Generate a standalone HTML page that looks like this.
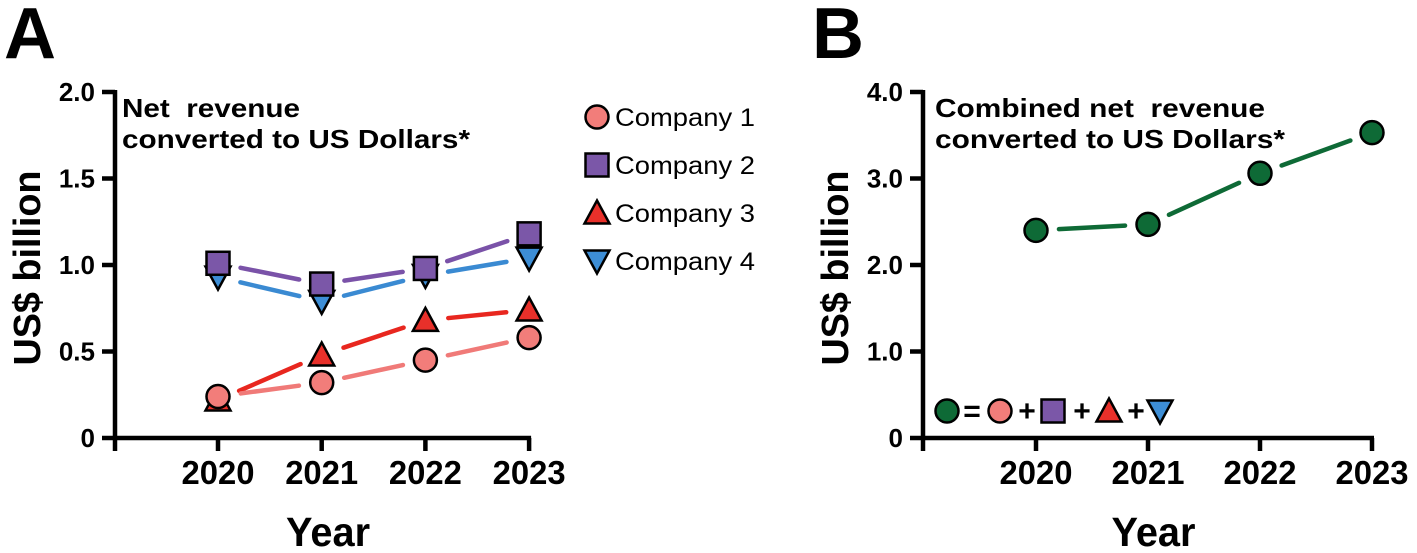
<!DOCTYPE html>
<html><head><meta charset="utf-8"><style>
body{margin:0;background:#fff}
svg{display:block;font-family:"Liberation Sans",Arial,sans-serif;font-weight:bold}
text{white-space:pre}
</style></head><body>
<svg id="chart" width="1417" height="553" viewBox="0 0 1417 553"></svg>
<script>
const years=["2020","2021","2022","2023"];
const c1=[0.24,0.32,0.45,0.58];
const c2=[1.01,0.89,0.98,1.18];
const c3=[0.22,0.48,0.68,0.74];
const c4=[0.93,0.79,0.94,1.04];
const combined=[2.40,2.47,3.06,3.53];
const ticksA=["0","0.5","1.0","1.5","2.0"];
const ticksAVal=[0,0.5,1.0,1.5,2.0];
const ticksB=["0","1.0","2.0","3.0","4.0"];
const ticksBVal=[0,1,2,3,4];

const NS="http://www.w3.org/2000/svg";
const svg=document.getElementById('chart');
function mk(tag,attrs,parent,text){const e=document.createElementNS(NS,tag);for(const k in attrs)e.setAttribute(k,attrs[k]);if(text!==undefined)e.textContent=text;(parent||svg).appendChild(e);return e;}

const COL={c1:"#f27d7a",c2:"#7b57a8",c3:"#e8302a",c4:"#3d8ed6",g:"#0e6a36"};
const LCOL={c1:"#f07a78",c2:"#7a52a8",c3:"#e8271f",c4:"#3a8ad2",g:"#0e6a36"};

function marker(type,cx,cy,fill,g,r){
  r=r||11.5;
  if(type==='circle')return mk('circle',{cx,cy,r,fill,stroke:'#000','stroke-width':2.5},g);
  if(type==='square')return mk('rect',{x:cx-r,y:cy-r,width:2*r,height:2*r,fill,stroke:'#000','stroke-width':2.5},g);
  if(type==='up')return mk('polygon',{points:`${cx},${cy-r-1} ${cx+r+1},${cy+r-1} ${cx-r-1},${cy+r-1}`,fill,stroke:'#000','stroke-width':2.5},g);
  if(type==='down')return mk('polygon',{points:`${cx-r-1},${cy-r+1} ${cx+r+1},${cy-r+1} ${cx},${cy+r+1}`,fill,stroke:'#000','stroke-width':2.5},g);
}

function panel(o){
  const {x0,y0,ppu,xs,ticks,tickVals,label}=o;
  const g=mk('g',{},svg);
  
  
  const yS=v=>y0-v*ppu;
  const xS=i=>xs[0]+i*(xs[1]);
  mk('text',{x:label.x,y:label.y,'font-size':72},g,label.t);
  const ax=mk('g',{stroke:'#000','stroke-width':4.5,fill:'none'},g);
  
  
  mk('line',{x1:x0,y1:yS(tickVals[tickVals.length-1])-2,x2:x0,y2:y0+2},ax);
  mk('line',{x1:x0-2,y1:y0,x2:xS(years.length-1)+2,y2:y0},ax);
  tickVals.forEach((v,i)=>{
    mk('line',{x1:x0-13,y1:yS(v),x2:x0,y2:yS(v)},ax);
    const t=mk('text',{x:x0-20,y:yS(v)+9,'font-size':26,'text-anchor':'end'},g,ticks[i]);
    
    
  });
  mk('line',{x1:x0,y1:y0,x2:x0,y2:y0+13},ax);
  years.forEach((y,i)=>{
    mk('line',{x1:xS(i),y1:y0,x2:xS(i),y2:y0+13},ax);
    const t=mk('text',{x:xS(i),y:y0+46,'font-size':33,'text-anchor':'middle',textLength:73,lengthAdjust:'spacingAndGlyphs'},g,y);
    
    
  });
  const xt=mk('text',{x:(x0+xS(3))/2+6,y:y0+108,'font-size':41,'text-anchor':'middle',textLength:84,lengthAdjust:'spacingAndGlyphs'},g,'Year');
  
  
  const yt=mk('text',{x:0,y:0,'font-size':38,'text-anchor':'middle',textLength:195,lengthAdjust:'spacingAndGlyphs',transform:`translate(${o.ytX},268) rotate(-90)`},g,'US$ billion');
  
  
  const tx=x0+o.titleDx;
  const t1=mk('text',{x:tx,y:117,'font-size':26,textLength:o.titleW[0],lengthAdjust:'spacingAndGlyphs'},g,o.title[0]);
  
  
  const t2=mk('text',{x:tx,y:148,'font-size':26,textLength:o.titleW[1],lengthAdjust:'spacingAndGlyphs'},g,o.title[1]);
  
  
  return {g,xS,yS};
}

function series(p,vals,key,name){
  const g=mk('g',{},p.g);
  
  
  const gap=23;
  for(let i=0;i<vals.length-1;i++){
    const x1=p.xS(i),y1=p.yS(vals[i]),x2=p.xS(i+1),y2=p.yS(vals[i+1]);
    const L=Math.hypot(x2-x1,y2-y1),ux=(x2-x1)/L,uy=(y2-y1)/L;
    const l=mk('line',{x1:x1+ux*gap,y1:y1+uy*gap,x2:x2-ux*gap,y2:y2-uy*gap,stroke:LCOL[key],'stroke-width':4.5,'stroke-linecap':'round'},g);
    
    
  }
  return g;
}
function points(p,g,vals,type,key,name){
  vals.forEach((v,i)=>{
    const m=marker(type,p.xS(i),p.yS(v),COL[key],g);
    
    
  });
}

// Panel A
const A=panel({name:'panel-a',x0:115,y0:438,ppu:173,xs:[218,103.7],ticks:ticksA,tickVals:ticksAVal,label:{x:4,y:58,t:'A'},ytX:40,titleDx:7,titleW:[178,348],title:['Net  revenue','converted to US Dollars*']});
const sA=[[c3,'up','c3','company-3'],[c4,'down','c4','company-4'],[c1,'circle','c1','company-1'],[c2,'square','c2','company-2']];
const gs=sA.map(s=>series(A,s[0],s[2],s[3]));
sA.forEach((s,i)=>points(A,gs[i],s[0],s[1],s[2],s[3]));
const legend=mk('g',{},A.g);


[['circle','c1','Company 1'],['square','c2','Company 2'],['up','c3','Company 3'],['down','c4','Company 4']].forEach((e,i)=>{
  const y=117+i*48;
  const eg=mk('g',{},legend);
  
  
  marker(e[0],597,y,COL[e[1]],eg);
  mk('text',{x:615,y:y+9,'font-size':25,'font-weight':'normal',textLength:140,lengthAdjust:'spacingAndGlyphs'},eg,e[2]);
});

// Panel B
const B=panel({name:'panel-b',x0:923,y0:438,ppu:86.5,xs:[1036,112],ticks:ticksB,tickVals:ticksBVal,label:{x:812,y:58,t:'B'},ytX:848,titleDx:12,titleW:[330,350],title:['Combined net  revenue','converted to US Dollars*']});
const gB=series(B,combined,'g','combined');
points(B,gB,combined,'circle','g','combined');
const eq=mk('g',{},B.g);


const ey=411;
marker('circle',947,ey,COL.g,eq);
mk('text',{x:972,y:ey+10,'font-size':30,'text-anchor':'middle'},eq,'=');
marker('circle',1000,ey,COL.c1,eq);
mk('text',{x:1027,y:ey+10,'font-size':30,'text-anchor':'middle'},eq,'+');
marker('square',1053,ey,COL.c2,eq);
mk('text',{x:1082,y:ey+10,'font-size':30,'text-anchor':'middle'},eq,'+');
marker('up',1109,ey,COL.c3,eq);
mk('text',{x:1136,y:ey+10,'font-size':30,'text-anchor':'middle'},eq,'+');
marker('down',1160,ey,COL.c4,eq);
</script>
</body></html>
